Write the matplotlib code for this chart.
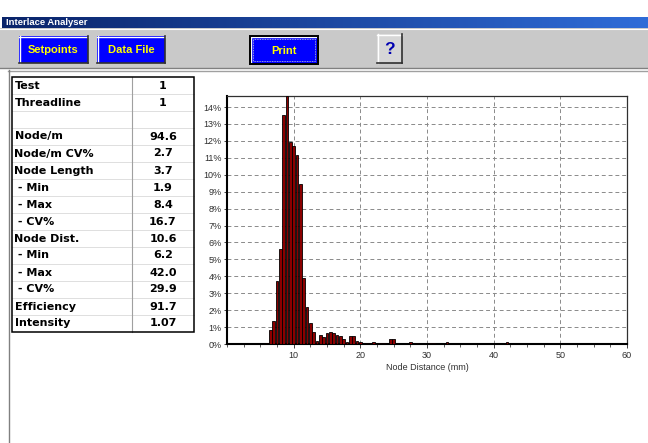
import numpy as np
import matplotlib.pyplot as plt
from matplotlib import font_manager
from matplotlib.patches import Rectangle
from matplotlib.colors import LinearSegmentedColormap
from matplotlib.ticker import MultipleLocator

W, H = 648, 443

row_labels = ["Test", "Threadline", "", "Node/m", "Node/m CV%", "Node Length",
              " - Min", " - Max", " - CV%", "Node Dist.", " - Min", " - Max",
              " - CV%", "Efficiency", "Intensity"]
row_values = ["1", "1", "", "94.6", "2.7", "3.7", "1.9", "8.4", "16.7",
              "10.6", "6.2", "42.0", "29.9", "91.7", "1.07"]

# --- Histogramme distance entre noeuds (classes de 0.5 mm) ---
bin_mm = [6.0, 6.5, 7.0, 7.5, 8.0, 8.5, 9.0, 9.5, 10.0, 10.5, 11.0, 11.5,
          12.0, 12.5, 13.0, 13.5, 14.0, 14.5, 15.0, 15.5, 16.0, 16.5, 17.0,
          17.5, 18.0, 18.5, 19.0, 19.5, 20.0, 21.0, 22.0, 23.0, 23.5, 24.5,
          25.0, 27.5, 28.5, 30.5, 31.0, 33.0, 42.0]
bin_pct = [0.05, 0.84, 1.37, 3.73, 5.59, 13.5, 14.65, 11.96, 11.72, 11.19,
           9.43, 3.92, 2.18, 1.24, 0.7, 0.2, 0.55, 0.4, 0.65, 0.7, 0.65, 0.55,
           0.45, 0.3, 0.1, 0.5, 0.5, 0.15, 0.1, 0.05, 0.1, 0.05, 0.05, 0.3,
           0.3, 0.1, 0.05, 0.05, 0.05, 0.1, 0.1]

y_ticks = list(range(0, 15))
x_ticks = [10, 20, 30, 40, 50, 60]

UI_FONT = "Liberation Sans"
TABLE_FONT = "DejaVu Sans"
installed = {f.name for f in font_manager.fontManager.ttflist}
BTN_FONT = "Liberation Sans Narrow" if "Liberation Sans Narrow" in installed else UI_FONT
GRAY = "#c9c9c9"

fig = plt.figure(figsize=(W / 100, H / 100), dpi=100)
fig.patch.set_facecolor("white")
ui = fig.add_axes([0, 0, 1, 1])
ui.axis("off")

# --- Barre de titre ---
grad = np.linspace(0, 1, 256).reshape(1, -1)
cmap = LinearSegmentedColormap.from_list("tb", ["#0a246a", "#2f6cd8"])
ui.imshow(grad, extent=[2, W, 28, 17], cmap=cmap, aspect="auto", zorder=1)
ui.text(6, 22.8, "Interlace Analyser", color="white", fontsize=6.8,
        fontweight="bold", family=UI_FONT, va="center", ha="left", zorder=3)

# --- Barre d'outils ---
ui.add_patch(Rectangle((0, 28), W, 40, facecolor=GRAY, edgecolor="none", zorder=1))
ui.plot([0, W], [68, 68], color="#808080", lw=1, zorder=2)
ui.plot([0, W], [28.5, 28.5], color="#ffffff", lw=0.8, zorder=2)


def button(x0, y0, x1, y1, face, text, tcolor, size=8, focus=False):
    ui.add_patch(Rectangle((x0, y0), x1 - x0, y1 - y0, facecolor=face,
                           edgecolor="none", zorder=2))
    ui.plot([x0, x1], [y0 + 0.5, y0 + 0.5], color="white", lw=1, zorder=3)
    ui.plot([x0 + 0.5, x0 + 0.5], [y0, y1], color="white", lw=1, zorder=3)
    ui.plot([x0, x1], [y1 - 0.5, y1 - 0.5], color="#303030", lw=1.2, zorder=3)
    ui.plot([x1 - 0.5, x1 - 0.5], [y0, y1], color="#303030", lw=1.2, zorder=3)
    if focus:
        ui.add_patch(Rectangle((x0, y0), x1 - x0, y1 - y0, facecolor="none",
                               edgecolor="black", lw=1.4, zorder=4))
        ui.add_patch(Rectangle((x0 + 3, y0 + 3), x1 - x0 - 6, y1 - y0 - 6,
                               facecolor="none", edgecolor="#d0d0d0", lw=0.6,
                               linestyle=(0, (1, 1)), zorder=4))
    ui.text((x0 + x1) / 2, (y0 + y1) / 2 + 0.5, text, color=tcolor,
            fontsize=size, fontweight="bold", family=BTN_FONT,
            ha="center", va="center", zorder=5)


button(19, 36, 88, 63, "#0000ff", "Setpoints", "#ffff00")
button(97, 36, 165, 63, "#0000ff", "Data File", "#ffff00")
button(250, 36, 318, 64, "#0000ff", "Print", "#ffff00", focus=True)
button(377, 34, 402, 63, "#d6d6d6", "?", "#0000b0", size=12.5)

# --- Cadre de la zone de contenu ---
ui.plot([8, W], [70.5, 70.5], color="#a0a0a0", lw=1, zorder=2)
ui.plot([8.5, 8.5], [70, H], color="#808080", lw=1, zorder=2)

# --- Tableau ---
tx0, tx1, tcol, ty0, row_h = 12, 194, 132, 77, 17
for i, (lab, val) in enumerate(zip(row_labels, row_values)):
    yc = ty0 + row_h * (i + 0.5)
    ui.text(tx0 + 2.5, yc, lab, fontsize=8, fontweight="bold", family=TABLE_FONT,
            ha="left", va="center", zorder=5)
    ui.text((tcol + tx1) / 2, yc, val, fontsize=8, fontweight="bold",
            family=TABLE_FONT, ha="center", va="center", zorder=5)
    if i > 0:
        ui.plot([tx0, tx1], [ty0 + row_h * i] * 2, color="#dedede", lw=0.7, zorder=3)
ty1 = ty0 + row_h * len(row_labels)
ui.plot([tcol, tcol], [ty0, ty1], color="#a0a0a0", lw=0.8, zorder=3)
ui.add_patch(Rectangle((tx0, ty0), tx1 - tx0, ty1 - ty0, facecolor="none",
                       edgecolor="black", lw=1.1, zorder=4))

ui.set_xlim(0, W)
ui.set_ylim(H, 0)

# --- Histogramme ---
ax = fig.add_axes([227 / W, 1 - 344 / H, 400 / W, 248 / H])
ax.set_facecolor("white")
ax.bar(bin_mm, bin_pct, width=0.4, color="#8b0000", edgecolor="black",
       linewidth=0.6, zorder=3)
ax.set_xlim(0, 60)
ax.set_ylim(0, 14.65)
ax.set_yticks(y_ticks)
ax.set_yticklabels([f"{v}%" for v in y_ticks])
ax.set_xticks(x_ticks)
ax.xaxis.set_minor_locator(MultipleLocator(2.5))
ax.grid(True, which="major", color="#8a8a8a", linestyle=(0, (4, 3)), lw=0.7, zorder=0)
ax.tick_params(axis="both", which="major", labelsize=6.5, length=3,
               width=0.7, color="#404040", pad=2)
ax.tick_params(axis="x", which="minor", length=2, width=0.6, color="#404040")
ax.tick_params(axis="y", length=2)
for lab in ax.get_xticklabels() + ax.get_yticklabels():
    lab.set_family(UI_FONT)
    lab.set_color("#303030")
ax.set_xlabel("Node Distance (mm)", fontsize=6.5, family=UI_FONT,
              color="#303030", labelpad=2.5)
for s in ("left", "bottom"):
    ax.spines[s].set_linewidth(1.5)
    ax.spines[s].set_color("black")
for s in ("top", "right"):
    ax.spines[s].set_linewidth(0.9)
    ax.spines[s].set_color("#303030")

fig.savefig("out.png", dpi=100)
